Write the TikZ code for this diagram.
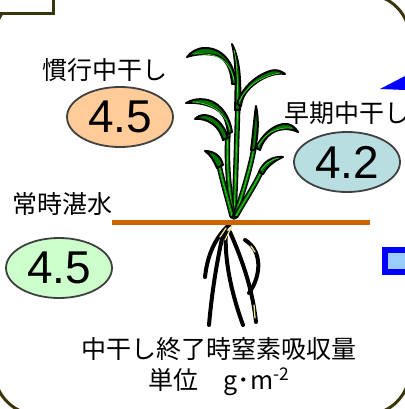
\documentclass[tikz,border=0pt]{standalone}
\usepackage{fontspec}
\newfontfamily\jpfont{Noto Sans CJK JP}
\newfontfamily\numfont{Liberation Sans}
\usetikzlibrary{shapes.geometric}

\definecolor{frameolive}{RGB}{58,54,12}
\definecolor{soilorange}{RGB}{204,102,0}
\definecolor{leafgreen}{RGB}{0,120,0}
\definecolor{ribgreen}{RGB}{60,210,40}
\definecolor{rootyellow}{RGB}{235,225,140}
\definecolor{convfill}{RGB}{255,204,153}
\definecolor{earlyfill}{RGB}{184,222,226}
\definecolor{floodfill}{RGB}{204,255,204}
\definecolor{markfill}{RGB}{153,204,255}
\definecolor{rimgray}{RGB}{64,64,64}

\tikzset{
  bubble/.style={ellipse, draw=rimgray, line width=1.8pt, inner sep=0pt,
    minimum width=106pt, minimum height=60pt,
    font=\numfont\fontsize{46}{46}\selectfont},
  plabel/.style={inner sep=0pt, anchor=west, font=\jpfont\fontsize{25}{25}\selectfont},
  blade/.style={fill=leafgreen, draw=black, line width=2pt, line join=round},
  rib/.style={draw=ribgreen, line width=0.8pt, line cap=round},
  stalk/.style={preaction={draw=black, line width=5.4pt, line cap=round},
    draw=leafgreen, line width=2.8pt, postaction={draw=ribgreen, line width=0.7pt}},
  root/.style={draw=black, line width=4pt, line cap=round},
  rootcore/.style={draw=rootyellow, line width=1.3pt, line cap=round},
}

\begin{document}
\begin{tikzpicture}[x=1pt, y=-1pt]
  \useasboundingbox (0,0) rectangle (404,409);

  % outer frame and the tab in the corner
  \draw[frameolive, line width=3pt, rounded corners=45pt] (-6,-6) rectangle (410,415);
  \draw[frameolive, line width=3pt, fill=white] (-10,-10) rectangle (53,14);

  % roots
  \draw[root] (230,224) .. controls (218,235) and (208,250) .. (205,277);
  \draw[root] (224,230) .. controls (218,255) and (212,290) .. (209,325);
  \draw[root] (226,232) .. controls (224,260) and (232,295) .. (243,325);
  \draw[root] (230,232) .. controls (240,255) and (252,285) .. (256,322);
  \draw[root] (245,240) .. controls (262,250) and (262,275) .. (249,293);
  \draw[rootcore] (226,228) -- (220,237);
  \draw[rootcore] (232,226) -- (225,240);
  \draw[rootcore] (254,305) -- (255,318);
  \draw[rootcore] (251,246) -- (255,252);

  % stems
  \draw[stalk] (234,217) .. controls (236,170) and (237,130) .. (238,100);
  \draw[stalk] (233,216) .. controls (229,190) and (226,160) .. (228,134);
  \draw[stalk] (232,216) .. controls (228,200) and (222,180) .. (219,165);
  \draw[stalk] (235,216) .. controls (242,195) and (250,170) .. (254,148);
  \draw[stalk] (236,216) .. controls (245,200) and (255,185) .. (261,172);

  % leaf blades
  \draw[blade] (235,110) .. controls (236,80) and (236,60) .. (232,44)
    .. controls (240,60) and (241,80) .. (240,110) -- cycle;
  \draw[rib] (237,105) .. controls (238,80) and (237,62) .. (234,50);
  \draw[blade] (236,84) .. controls (234,62) and (222,48) .. (205,48)
    .. controls (197,48) and (191,52) .. (187,57)
    .. controls (195,54) and (208,53) .. (218,56)
    .. controls (226,60) and (231,68) .. (232,84) -- cycle;
  \draw[rib] (234,80) .. controls (230,62) and (220,52) .. (193,54);
  \draw[blade] (237,104) .. controls (242,88) and (255,76) .. (270,71)
    .. controls (277,69) and (281,71) .. (285,74)
    .. controls (275,72) and (260,78) .. (250,88)
    .. controls (245,93) and (242,98) .. (241,106) -- cycle;
  \draw[rib] (239,102) .. controls (246,87) and (260,76) .. (280,73);
  \draw[blade] (232,132) .. controls (230,118) and (222,104) .. (208,100)
    .. controls (198,98) and (191,100) .. (186,103)
    .. controls (198,102) and (212,105) .. (220,112)
    .. controls (225,117) and (227,124) .. (228,134) -- cycle;
  \draw[rib] (230,130) .. controls (226,115) and (215,103) .. (192,102);
  \draw[blade] (228,138) .. controls (224,124) and (215,116) .. (205,115)
    .. controls (200,115) and (197,117) .. (195,119)
    .. controls (203,118) and (212,122) .. (217,128)
    .. controls (220,132) and (222,136) .. (223,140) -- cycle;
  \draw[blade] (256,106) .. controls (259,120) and (258,135) .. (255,150)
    -- (251,150) .. controls (253,135) and (254,120) .. (256,106) -- cycle;
  \draw[blade] (256,148) .. controls (262,135) and (272,126) .. (283,124)
    .. controls (290,123) and (295,127) .. (298,132)
    .. controls (290,128) and (280,128) .. (272,133)
    .. controls (266,137) and (262,143) .. (260,150) -- cycle;
  \draw[rib] (258,146) .. controls (265,134) and (275,127) .. (292,128);
  \draw[blade] (223,165) .. controls (221,156) and (214,151) .. (205,151)
    .. controls (211,155) and (214,161) .. (217,168) -- cycle;
  \draw[blade] (259,172) .. controls (263,162) and (272,156) .. (283,157)
    .. controls (276,160) and (268,165) .. (263,174) -- cycle;
  \draw[rib] (261,170) .. controls (266,163) and (272,159) .. (279,158);

  % water level
  \draw[soilorange, line width=5pt] (112,222) -- (370,222);

  % values
  \node[bubble, fill=convfill] (conv) at (120,117) {4.5};
  \node[bubble, fill=earlyfill] (early) at (347,162) {4.2};
  \node[bubble, fill=floodfill] (flood) at (59,268) {4.5};

  \node[plabel] (convtxt) at (42,70) {慣行中干し};
  \node[plabel] (earlytxt) at (284,113) {早期中干し};
  \node[plabel] (floodtxt) at (12,204) {常時湛水};
  \node[inner sep=0pt, align=center, font=\jpfont\fontsize{25}{31}\selectfont]
    (caption) at (219,367) {中干し終了時窒素吸収量\\単位　g･m\textsuperscript{-2}};

  % legend marks cut by the edge
  \fill[blue] (380,89) -- (405,76) -- (405,90) -- cycle;
  \draw[blue, line width=6pt, fill=markfill] (385,250) rectangle (415,272);
\end{tikzpicture}
\end{document}
